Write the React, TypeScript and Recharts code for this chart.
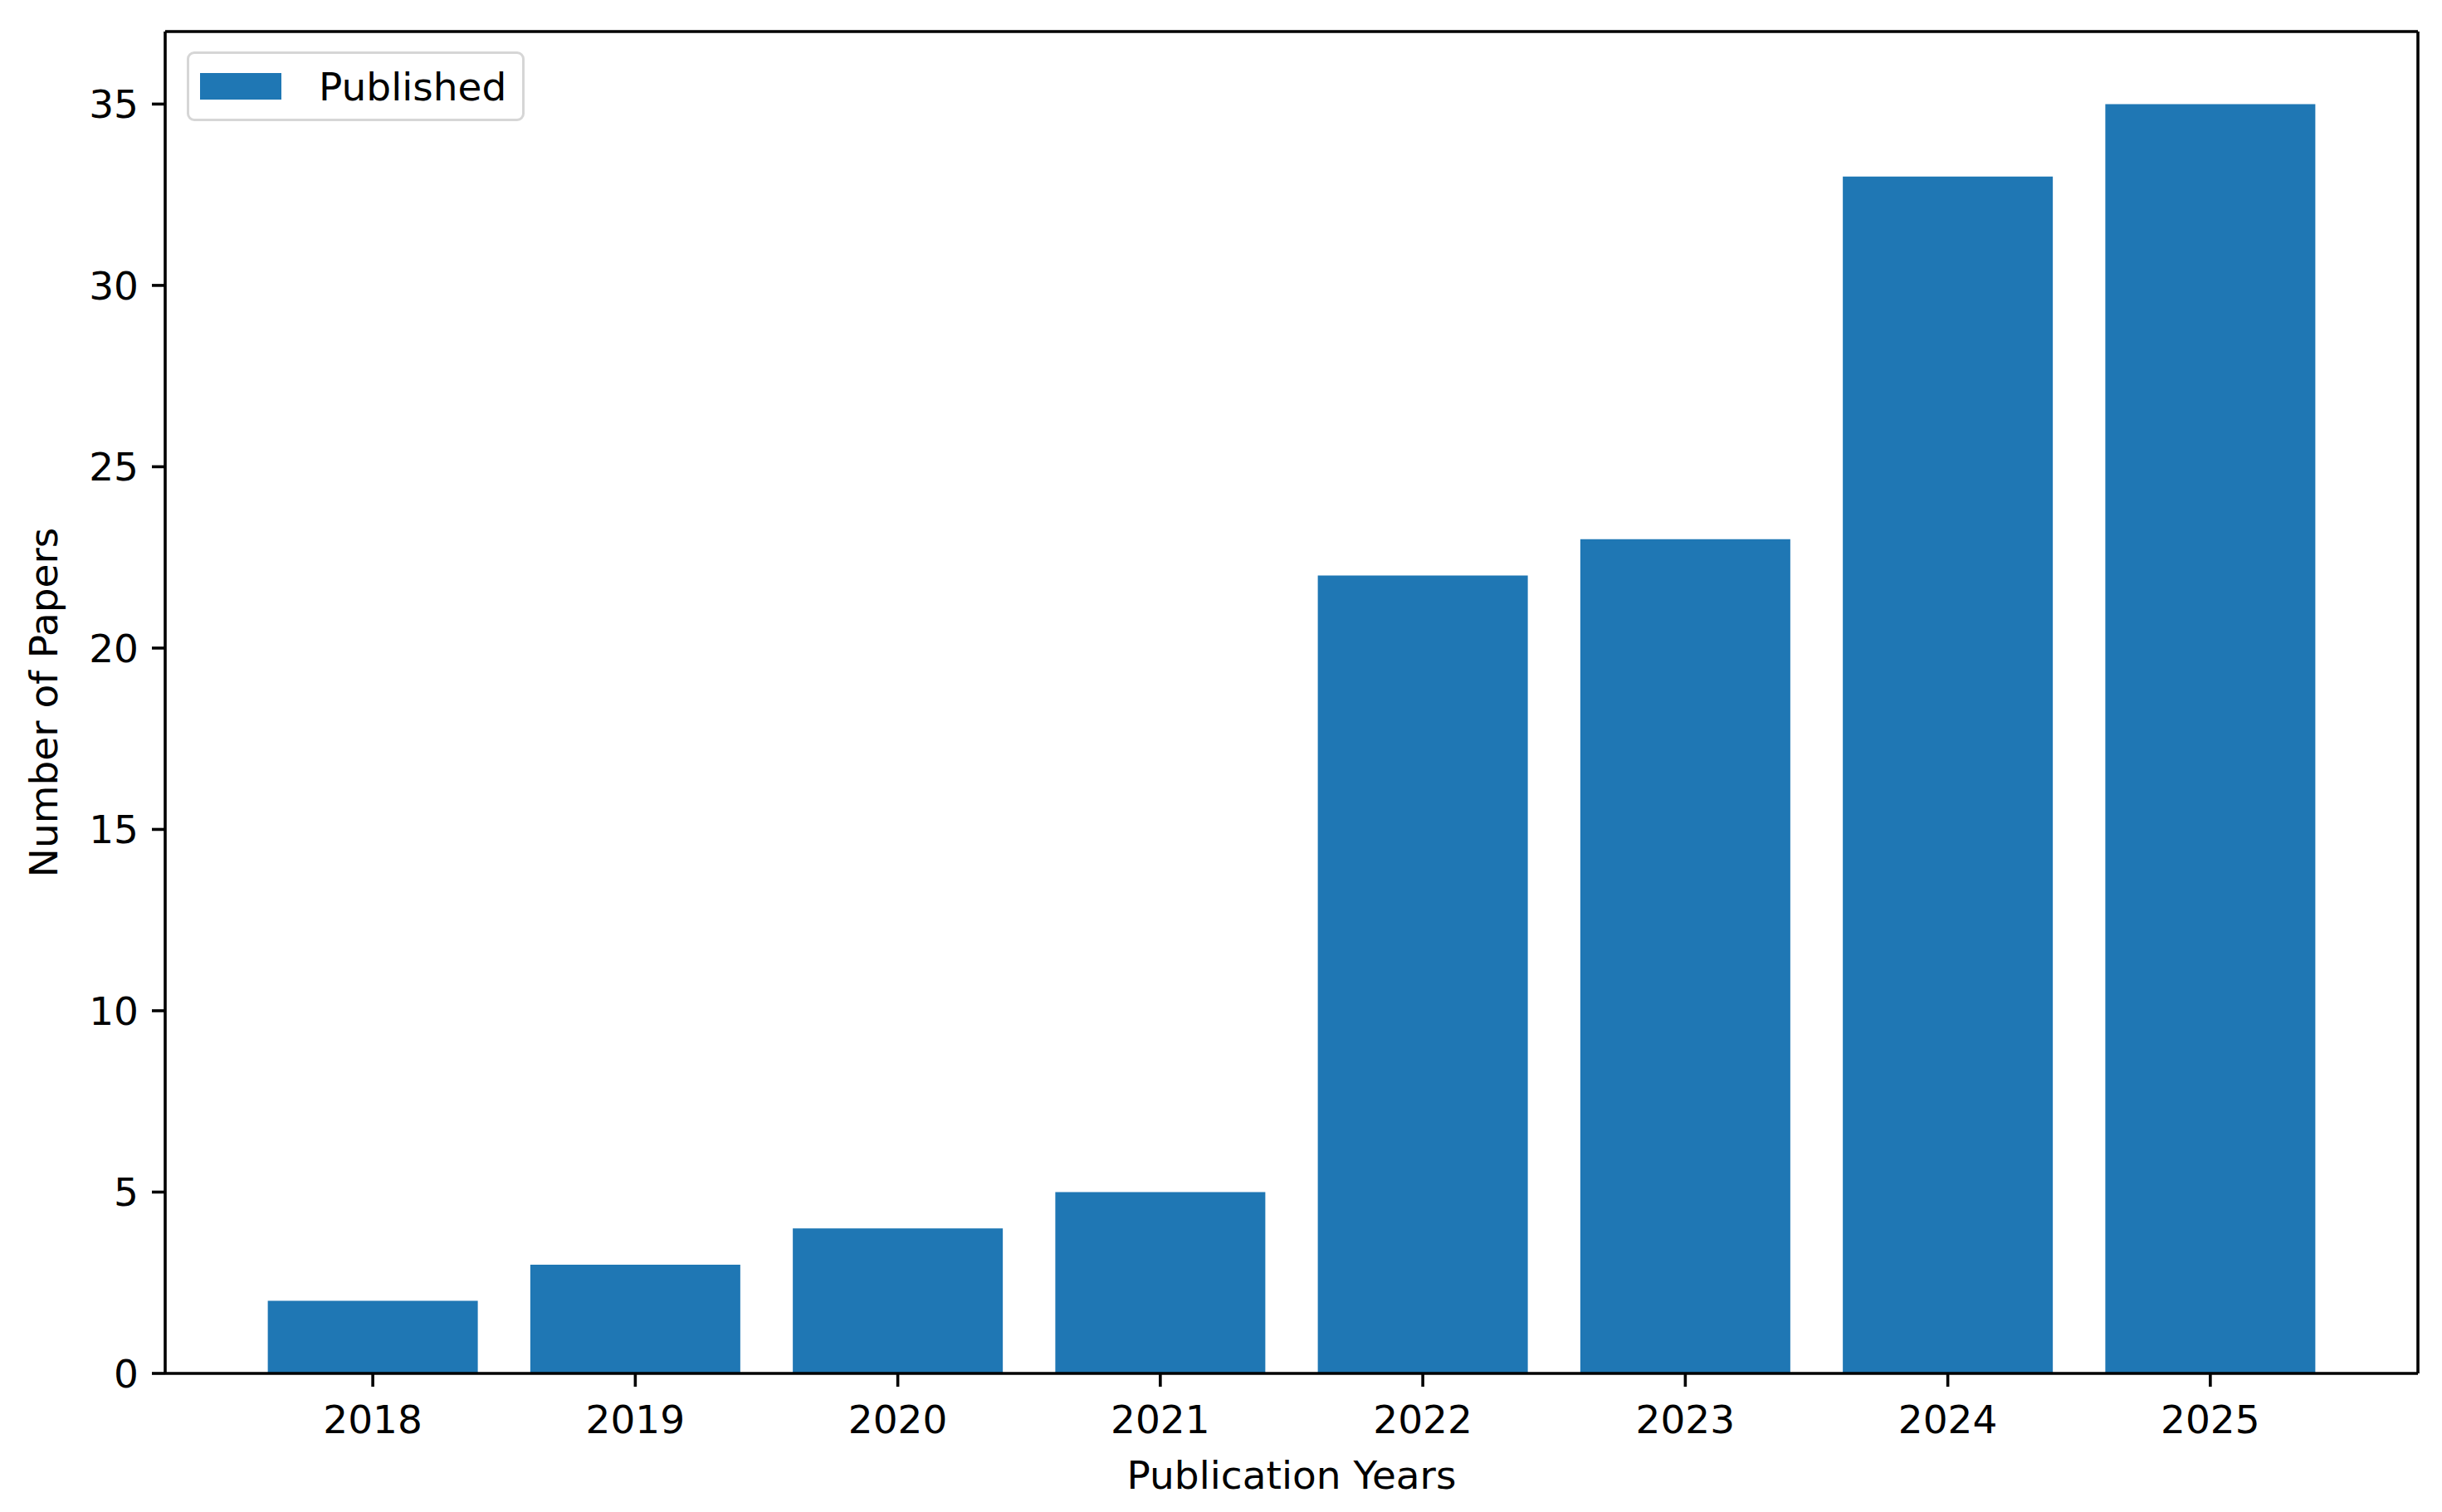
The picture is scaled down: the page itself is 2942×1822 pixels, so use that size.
import React from "react";
import { Bar, BarChart, Legend, XAxis, YAxis } from "recharts";

const years = ["2018", "2019", "2020", "2021", "2022", "2023", "2024", "2025"];
const published = [2, 3, 4, 5, 22, 23, 33, 35];
const yTicks = [0, 5, 10, 15, 20, 25, 30, 35];

const data = years.map((year, i) => ({ year, published: published[i] }));

const FONT = "'DejaVu Sans', sans-serif";
const BLUE = "#1f77b4";
const LINE = 3.6;

function LegendBox() {
  return (
    <div
      style={{
        boxSizing: "border-box",
        width: 407,
        height: 84,
        border: "3px solid #d6d6d6",
        borderRadius: 9,
        background: "rgba(255,255,255,0.8)",
        display: "flex",
        alignItems: "center",
        fontFamily: FONT,
        fontSize: 47,
        color: "#000",
      }}
    >
      <span style={{ display: "inline-block", width: 98, height: 32, background: BLUE, marginLeft: 13 }} />
      <span style={{ marginLeft: 45 }}>Published</span>
    </div>
  );
}

export default function App() {
  return (
    <div style={{ width: 2942, height: 1822, background: "#fff" }}>
      <style>{`body{margin:0}`}</style>
      <BarChart
        width={2942}
        height={1822}
        data={data}
        margin={{ top: 37, right: 28, bottom: 0, left: 79 }}
        barCategoryGap="10%"
      >
        <XAxis
          dataKey="year"
          height={167}
          padding={{ left: 92, right: 92 }}
          tickSize={16}
          tickMargin={23}
          tick={{ fill: "#000", fontSize: 47, fontFamily: FONT }}
          axisLine={{ stroke: "#000", strokeWidth: LINE }}
          tickLine={{ stroke: "#000", strokeWidth: LINE }}
          label={{
            value: "Publication Years",
            position: "insideBottom",
            offset: 28,
            fill: "#000",
            fontSize: 47,
            fontFamily: FONT,
          }}
        />
        <XAxis
          xAxisId="top"
          dataKey="year"
          orientation="top"
          height={1}
          padding={{ left: 92, right: 92 }}
          tick={false}
          tickLine={false}
          axisLine={{ stroke: "#000", strokeWidth: LINE }}
        />
        <YAxis
          width={120}
          domain={[0, 37]}
          ticks={yTicks}
          tickSize={16}
          tickMargin={16}
          tick={{ fill: "#000", fontSize: 47, fontFamily: FONT }}
          axisLine={{ stroke: "#000", strokeWidth: LINE }}
          tickLine={{ stroke: "#000", strokeWidth: LINE }}
          label={{
            value: "Number of Papers",
            content: (props: any) => {
              const vb = props.viewBox;
              const cx = 52;
              const cy = vb.y + vb.height / 2;
              return (
                <text x={cx} y={cy} transform={`rotate(-90 ${cx} ${cy})`} textAnchor="middle"
                  dominantBaseline="central" fill="#000" fontSize={47} fontFamily={FONT}>
                  Number of Papers
                </text>
              );
            },
          }}
        />
        <YAxis
          yAxisId="right"
          orientation="right"
          width={1}
          domain={[0, 37]}
          tick={false}
          tickLine={false}
          axisLine={{ stroke: "#000", strokeWidth: LINE }}
        />
        <Legend
          layout="horizontal"
          verticalAlign="middle"
          align="center"
          wrapperStyle={{ left: 225, top: 62, width: 407, height: 84 }}
          content={() => <LegendBox />}
        />
        <Bar dataKey="published" name="Published" fill={BLUE} isAnimationActive={false} />
      </BarChart>
    </div>
  );
}
